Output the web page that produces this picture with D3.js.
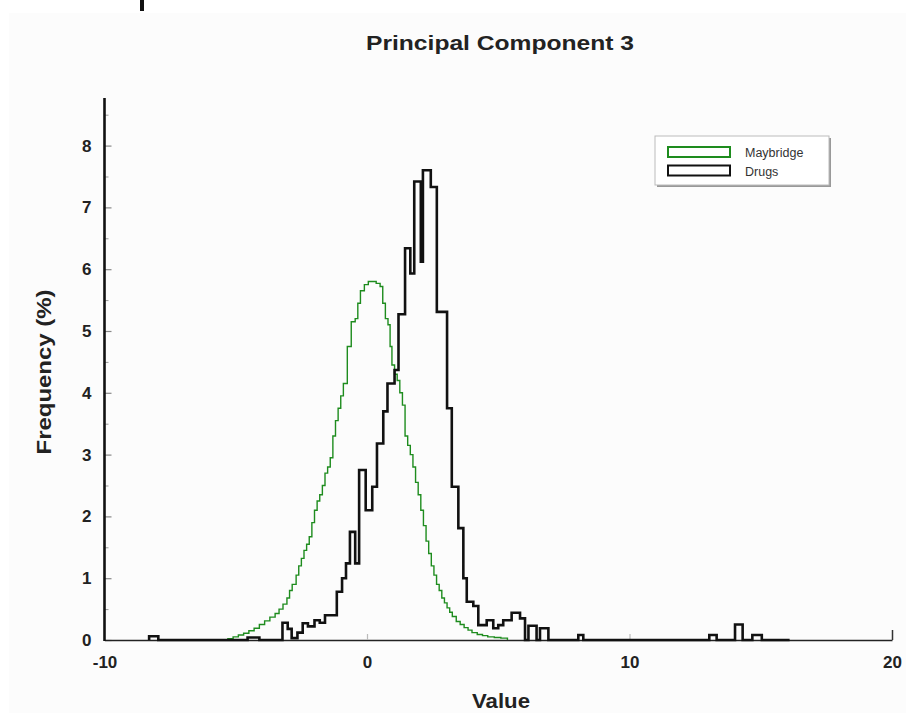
<!DOCTYPE html>
<html><head><meta charset="utf-8">
<script src="https://cdn.jsdelivr.net/npm/d3@7"></script>
<style>
html,body{margin:0;padding:0;background:#fff;}
svg{display:block;}
text{font-family:"Liberation Sans",Arial,sans-serif;}
</style></head>
<body>
<script>
// ---------- data ----------
const titleText = "Principal Component 3";
const xLabel = "Value";
const yLabel = "Frequency (%)";
const seriesNames = ["Maybridge", "Drugs"];
const xTicks = [-10, 0, 10, 20];
const yTicks = [0, 1, 2, 3, 4, 5, 6, 7, 8];
const yMinorTicks = [0.5, 1.5, 2.5, 3.5, 4.5, 5.5, 6.5, 7.5, 8.5];

// Maybridge histogram: bin left edges and frequency (%)
const maybridgeX = [-5.3,-5.1,-4.9,-4.7,-4.5,-4.3,-4.1,-3.9,-3.7,-3.5,-3.35,-3.2,-3.05,-2.95,-2.85,-2.7,-2.6,-2.5,-2.4,-2.3,-2.2,-2.1,-2.0,-1.9,-1.8,-1.7,-1.6,-1.5,-1.4,-1.3,-1.2,-1.1,-1.0,-0.9,-0.75,-0.6,-0.45,-0.35,-0.25,-0.1,0.05,0.2,0.35,0.5,0.6,0.7,0.8,0.88,0.95,1.05,1.15,1.25,1.35,1.45,1.55,1.65,1.75,1.85,1.95,2.05,2.15,2.25,2.35,2.45,2.55,2.65,2.75,2.85,2.95,3.05,3.15,3.25,3.4,3.55,3.7,3.85,4.0,4.2,4.4,4.6,4.85,5.1,5.35];
const maybridgeFreq = [0.02,0.05,0.08,0.11,0.15,0.19,0.25,0.31,0.37,0.43,0.5,0.58,0.68,0.8,0.9,1.05,1.2,1.32,1.45,1.55,1.67,1.9,2.1,2.25,2.35,2.5,2.7,2.8,2.95,3.3,3.55,3.75,3.95,4.15,4.75,5.15,5.2,5.45,5.65,5.75,5.8,5.8,5.77,5.72,5.45,5.2,5.1,4.75,4.45,4.3,4.2,4.0,3.8,3.3,3.15,3.0,2.8,2.55,2.35,2.1,1.85,1.6,1.4,1.2,1.05,0.9,0.8,0.68,0.6,0.52,0.45,0.38,0.3,0.25,0.2,0.16,0.12,0.09,0.07,0.05,0.04,0.03,0];

// Drugs histogram: bin left edges and frequency (%)
const drugsX = [-8.3,-7.95,-4.55,-4.1,-3.22,-3.02,-2.87,-2.65,-2.45,-2.25,-2.0,-1.8,-1.6,-1.15,-0.95,-0.8,-0.65,-0.45,-0.3,-0.05,0.2,0.38,0.62,0.78,1.05,1.2,1.45,1.65,1.8,2.05,2.13,2.43,2.66,3.05,3.23,3.48,3.67,3.8,4.05,4.24,4.56,4.81,5.0,5.19,5.51,5.83,6.02,6.15,6.46,6.59,6.91,8.05,8.24,13.04,13.32,14.02,14.31,14.68,15.04,16.1];
const drugsFreq = [0.06,0,0.04,0,0.28,0.18,0.03,0.12,0.27,0.22,0.32,0.28,0.4,0.78,1.0,1.24,1.75,1.24,2.75,2.1,2.48,3.18,3.7,4.15,4.37,5.27,6.34,5.93,7.42,6.12,7.6,7.33,5.31,3.75,2.48,1.81,1.0,0.62,0.55,0.24,0.32,0.19,0.24,0.32,0.44,0.35,0,0.23,0,0.19,0,0.08,0,0.08,0,0.25,0,0.08,0,0];

// ---------- drawing ----------
const W = 906, H = 713;
const svg = d3.select("body").append("svg").attr("width", W).attr("height", H);

svg.append("rect").attr("x", 9).attr("y", 13).attr("width", W - 9).attr("height", H - 13).attr("fill", "#fcfcfc");
svg.append("rect").attr("x", 140).attr("y", 0).attr("width", 4).attr("height", 11).attr("fill", "#111");

const x = d3.scaleLinear().domain([-10, 20]).range([104.5, 892]);
const y = d3.scaleLinear().domain([0, 8.77]).range([640, 98]);

// title
svg.append("text").attr("x", 500).attr("y", 50).attr("text-anchor", "middle")
  .attr("font-size", 21).attr("font-weight", "bold").attr("fill", "#222")
  .attr("textLength", 268).attr("lengthAdjust", "spacingAndGlyphs").text(titleText);

// y axis minor ticks
svg.append("g").attr("transform", `translate(${x(-10)},0)`)
  .call(d3.axisLeft(y).tickValues(yMinorTicks).tickSize(-4).tickFormat(""))
  .call(g => g.select(".domain").remove())
  .call(g => g.selectAll(".tick line").attr("stroke", "#999").attr("stroke-width", 1));

// y axis major ticks
svg.append("g").attr("transform", `translate(${x(-10)},0)`)
  .call(d3.axisLeft(y).tickValues(yTicks).tickSize(-7).tickPadding(13).tickSizeOuter(0).tickFormat(d => String(d)))
  .call(g => g.select(".domain").remove())
  .call(g => g.selectAll(".tick line").attr("stroke", "#888").attr("stroke-width", 1.2))
  .call(g => g.selectAll(".tick text").attr("font-size", 17).attr("font-weight", "bold").attr("fill", "#222")
    .attr("font-family", "'Liberation Sans',Arial,sans-serif"));

// x axis
const xAxisG = svg.append("g").attr("transform", `translate(0,${y(0)})`)
  .call(d3.axisBottom(x).tickValues(xTicks).tickSize(-6).tickPadding(16).tickSizeOuter(0).tickFormat(d => String(d)))
  .call(g => g.select(".domain").attr("stroke", "#222").attr("stroke-width", 1.6))
  .call(g => g.selectAll(".tick line").attr("stroke", "#bbb").attr("stroke-width", 1.2))
  .call(g => g.selectAll(".tick text").attr("font-size", 17).attr("font-weight", "bold").attr("fill", "#222")
    .attr("font-family", "'Liberation Sans',Arial,sans-serif"));
xAxisG.selectAll(".tick").filter(d => d === 20).select("line").attr("y2", -10).attr("stroke", "#333").attr("stroke-width", 1.5);
xAxisG.selectAll(".tick").filter(d => d === -10).select("line").remove();

// histograms
const line = d3.line().x(d => x(d[0])).y(d => y(d[1])).curve(d3.curveStepAfter);
function pts(xs, fs) {
  const p = [[xs[0], 0]];
  xs.forEach((v, i) => p.push([v, fs[i]]));
  return p;
}
svg.append("path").attr("d", line(pts(maybridgeX, maybridgeFreq)))
  .attr("fill", "none").attr("stroke", "#1e8c1e").attr("stroke-width", 1.4);
svg.append("path").attr("d", line(pts(drugsX, drugsFreq)))
  .attr("fill", "none").attr("stroke", "#111").attr("stroke-width", 2.6).attr("stroke-linejoin", "miter");

// y axis line (on top)
svg.append("line").attr("x1", x(-10)).attr("x2", x(-10)).attr("y1", y(8.77)).attr("y2", y(0) + 1)
  .attr("stroke", "#111").attr("stroke-width", 2.6);

// axis labels
svg.append("text").attr("x", 501).attr("y", 708).attr("text-anchor", "middle")
  .attr("font-size", 21).attr("font-weight", "bold").attr("fill", "#222")
  .attr("textLength", 58).attr("lengthAdjust", "spacingAndGlyphs").text(xLabel);
svg.append("text").attr("transform", "translate(51,372) rotate(-90)").attr("text-anchor", "middle")
  .attr("font-size", 21).attr("font-weight", "bold").attr("fill", "#222")
  .attr("textLength", 165).attr("lengthAdjust", "spacingAndGlyphs").text(yLabel);

// legend
const lg = svg.append("g");
lg.append("rect").attr("x", 657).attr("y", 138).attr("width", 174).attr("height", 49).attr("fill", "#999");
lg.append("rect").attr("x", 655).attr("y", 136).attr("width", 174).attr("height", 49).attr("fill", "#fff").attr("stroke", "#bbb").attr("stroke-width", 1);
const legendColors = ["#1e8c1e", "#111"];
seriesNames.forEach((name, i) => {
  lg.append("rect").attr("x", 668).attr("y", 147 + i * 18.5).attr("width", 62).attr("height", 10)
    .attr("fill", "#fff").attr("stroke", legendColors[i]).attr("stroke-width", 2);
  lg.append("text").attr("x", 745).attr("y", 157 + i * 18.5).attr("font-size", 12.5).attr("fill", "#333").text(name);
});
</script>
</body></html>
